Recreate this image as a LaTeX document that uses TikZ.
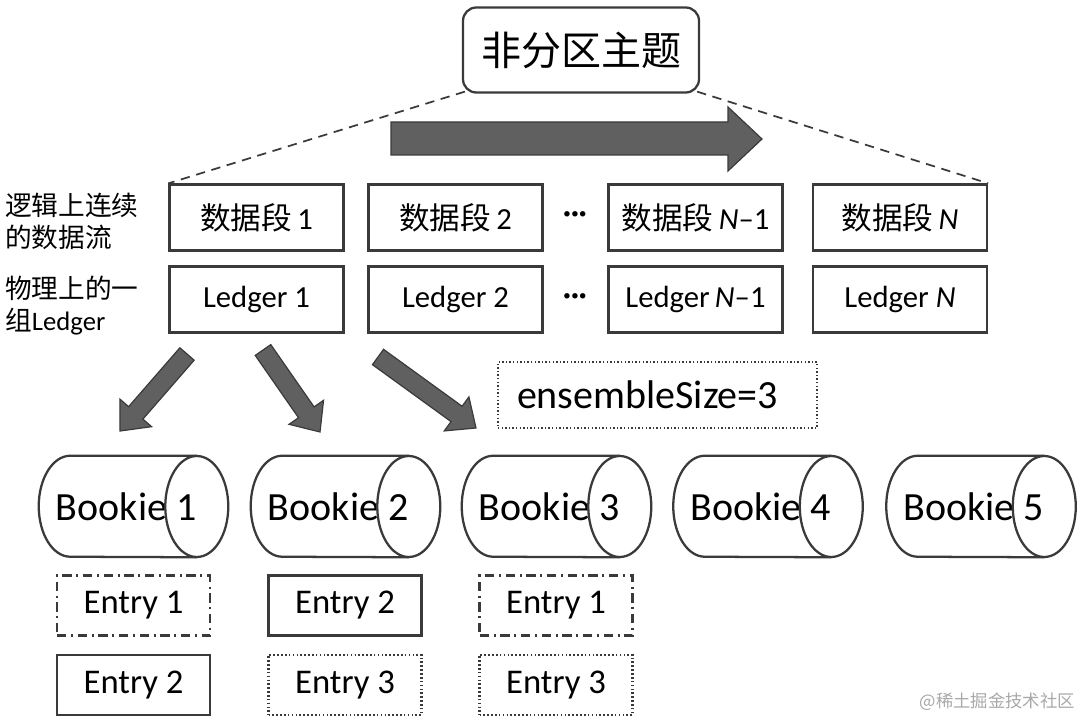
\documentclass[tikz,border=0pt]{standalone}
\usepackage{fontspec}
\setmainfont{Carlito}
\newfontfamily\cjk{Noto Sans CJK SC}
\usetikzlibrary{calc}
\definecolor{lc}{HTML}{3A3A3A}
\definecolor{af}{HTML}{606060}
\definecolor{wm}{HTML}{A8A8A8}
\newcommand\blockarr[2]{%
  \coordinate (tmph) at ($(#2)!18pt!(#1)$);
  \filldraw[arrowst] ($(#1)!7.1pt!90:(#2)$) -- ($(tmph)!7.1pt!90:(#2)$)
    -- ($(tmph)!15.75pt!90:(#2)$) -- (#2) -- ($(tmph)!15.75pt!-90:(#2)$)
    -- ($(tmph)!7.1pt!-90:(#2)$) -- ($(#1)!7.1pt!-90:(#2)$) -- cycle;}
\begin{document}
\begin{tikzpicture}[x=0.75pt,y=-0.75pt,
  ln/.style={draw=lc,line width=1.7pt},
  dbox/.style={ln,minimum width=130.5pt,minimum height=49.5pt,inner sep=0pt,
    font=\fontsize{23}{27}\selectfont},
  topbox/.style={ln,rounded corners=10pt,minimum width=177pt,minimum height=63.75pt,
    inner sep=0pt,font=\fontsize{30}{34}\selectfont},
  ebox/.style={draw=lc,line width=1.5pt,dash pattern=on 1.1pt off 1.6pt,
    text width=210.75pt,inner xsep=14.25pt,minimum height=49.5pt,align=left,
    font=\fontsize{30}{34}\selectfont},
  bk/.style={minimum width=141.75pt,minimum height=75.75pt,inner sep=0pt,
    font=\fontsize{30}{34}\selectfont},
  entry/.style={line width=1.7pt,minimum width=114.75pt,minimum height=45pt,inner sep=0pt,
    font=\fontsize{26}{30}\selectfont},
  esolid/.style={entry,draw=lc},
  edashdot/.style={entry,draw=lc,dash pattern=on 7pt off 3.5pt on 1.5pt off 3.5pt},
  edot/.style={entry,draw=lc,dash pattern=on 1.2pt off 1.7pt},
  lab/.style={align=left,anchor=west,inner sep=0pt,font=\fontsize{20}{24}\selectfont},
  arrowst/.style={fill=af,draw=lc,line width=0.9pt,line join=miter},
  dashln/.style={draw=lc,line width=1.3pt,dash pattern=on 7pt off 5pt},
  dotsst/.style={font=\fontsize{22}{26}\selectfont\bfseries}
]
\useasboundingbox (0,0) rectangle (1080,720);

% top topic box
\node[topbox] (top) at (581,50) {\cjk 非分区主题};

% big right arrow
\filldraw[arrowst] (391,122) -- (728,122) -- (728,107) -- (762,139) -- (728,171)
  -- (728,155) -- (391,155) -- cycle;

% data segments
\node[dbox] (d1) at (256.5,217.5) {{\cjk 数据段}\,1};
\node[dbox] (d2) at (455.5,217.5) {{\cjk 数据段}\,2};
\node[dbox] (dm) at (695.5,217.5) {{\cjk 数据段}\,\textit{N}–1};
\node[dbox] (dn) at (900,217.5) {{\cjk 数据段}\,\textit{N}};
\node[dotsst] (dots1) at (575,217) {···};

% ledgers
\node[dbox] (l1) at (256.5,299.5) {Ledger 1};
\node[dbox] (l2) at (455.5,299.5) {Ledger 2};
\node[dbox] (lm) at (695.5,299.5) {Ledger\,\textit{N}–1};
\node[dbox] (lnn) at (900,299.5) {Ledger \textit{N}};
\node[dotsst] (dots2) at (575,299) {···};

% dashed lines from topic box
\draw[dashln] ($(top.south west)+(3,-2)$) -- (d1.north west);
\draw[dashln] ($(top.south east)+(-3,-2)$) -- (dn.north east);

% left labels
\node[lab] (lab1) at (5,221) {\cjk 逻辑上连续\\\cjk 的数据流};
\node[lab] (lab2) at (5,306) {\cjk 物理上的一\\{\cjk 组}Ledger};

% ensemble size
\node[ebox] (ens) at (657.5,395) {ensembleSize=3};

% bookies
\foreach \n/\cx in {1/133.5,2/345.5,3/556.5,4/768,5/981}{
  \node[bk] (b\n) at (\cx,506.5) {Bookie \n\kern11pt\relax};
  \draw[ln] ($(b\n.north east)+(-31.5,0)$) -- ($(b\n.north west)+(31.5,0)$)
     arc[start angle=90,end angle=270,x radius=23.625pt,y radius=37.875pt]
     -- ($(b\n.south east)+(-31.5,0)$);
  \draw[ln] ($(b\n.east)+(-31.5,0)$) ellipse[x radius=23.625pt,y radius=37.875pt];
}

% block arrows from Ledger 1 to bookies
\coordinate (a1s) at (187,354); \coordinate (a1e) at (120,431);
\coordinate (a2s) at (263,350); \coordinate (a2e) at (320,432);
\coordinate (a3s) at (378,357); \coordinate (a3e) at (476,428);
\blockarr{a1s}{a1e}
\blockarr{a2s}{a2e}
\blockarr{a3s}{a3e}

% entries
\node[edashdot] (e11) at (133.5,605.5) {Entry 1};
\node[esolid]   (e12) at (133.5,685) {Entry 2};
\node[esolid]   (e21) at (345,605.5) {Entry 2};
\node[edot]     (e22) at (345,685) {Entry 3};
\node[edashdot] (e31) at (556,605.5) {Entry 1};
\node[edot]     (e32) at (556,685) {Entry 3};

% watermark
\node[text=wm,font=\fontsize{13}{15}\selectfont,anchor=east,inner sep=0pt] (wmk) at (1075,702) {\cjk @稀土掘金技术社区};
\end{tikzpicture}
\end{document}
